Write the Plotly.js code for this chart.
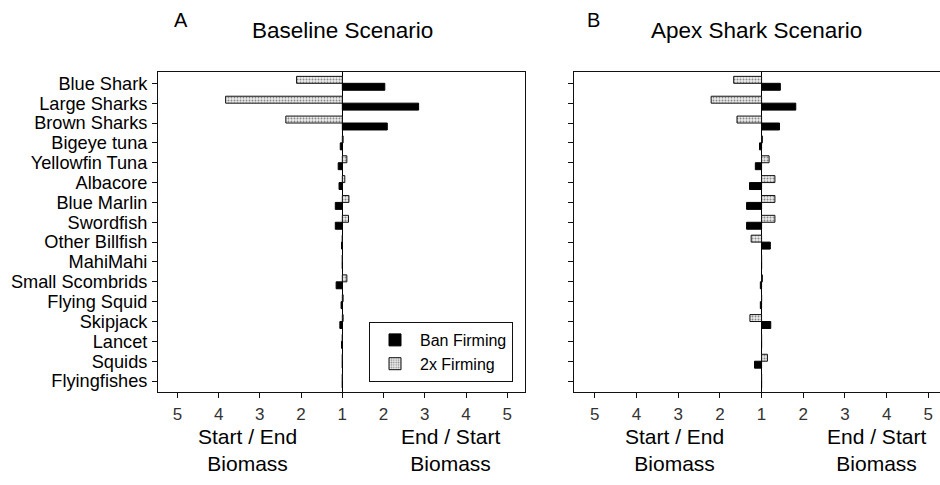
<!DOCTYPE html>
<html>
<head>
<meta charset="utf-8">
<script src="https://cdn.plot.ly/plotly-3.0.1.min.js"></script>
<style>html,body{margin:0;padding:0;background:#fff;}#chart{width:940px;height:485px;}</style>
</head>
<body>
<div id="chart"></div>
<script>
// Species (top to bottom)
const categories = ['Blue Shark','Large Sharks','Brown Sharks','Bigeye tuna','Yellowfin Tuna','Albacore','Blue Marlin','Swordfish','Other Billfish','MahiMahi','Small Scombrids','Flying Squid','Skipjack','Lancet','Squids','Flyingfishes'];

// Signed biomass ratios: positive = End/Start ratio (drawn right of 1),
// negative = Start/End ratio (drawn left of 1); 1 = no change.
const baselineBanFinning = [2.03, 2.85, 2.09, -1.05, -1.10, -1.08, -1.17, -1.17, -1.02, 1, -1.15, -1.03, -1.06, -1.02, 1, 1];
const baseline2xFinning  = [-2.11, -3.83, -2.37, 1.02, 1.11, 1.06, 1.16, 1.15, 1, 1, 1.11, 1.02, 1.02, 1, 1, 1];
const apexBanFinning     = [1.45, 1.82, 1.43, -1.05, -1.15, -1.29, -1.36, -1.36, 1.21, 1, -1.03, -1.03, 1.22, 1, -1.17, 1];
const apex2xFinning      = [-1.67, -2.21, -1.59, 1.02, 1.18, 1.32, 1.32, 1.32, -1.25, 1, 1.02, 1, -1.28, 1, 1.14, 1];

const tickVals = [-4, -3, -2, -1, 0, 1, 2, 3, 4];
const tickText = ['5', '4', '3', '2', '1', '2', '3', '4', '5'];

const toAxis = v => (v >= 0 ? v - 1 : v + 1);

const FONT = 'Liberation Sans, Arial, Helvetica, sans-serif';
const W = 940, H = 485;
const px = x => x / W;
const py = y => 1 - y / H;

const grayMarker = {color: '#e6e6e6', line: {color: '#111', width: 1},
  pattern: {shape: '.', fgcolor: '#8a8a8a', bgcolor: '#eeeeee', size: 3, solidity: 0.35}};
const blackMarker = {color: '#000', line: {color: '#000', width: 1}};

const traces = [
  {type: 'bar', orientation: 'h', name: '2x Firming', y: categories, x: baseline2xFinning.map(toAxis),
   marker: grayMarker, xaxis: 'x', yaxis: 'y', showlegend: true, legendrank: 2},
  {type: 'bar', orientation: 'h', name: 'Ban Firming', y: categories, x: baselineBanFinning.map(toAxis),
   marker: blackMarker, xaxis: 'x', yaxis: 'y', showlegend: true, legendrank: 1},
  {type: 'bar', orientation: 'h', name: '2x Firming', y: categories, x: apex2xFinning.map(toAxis),
   marker: grayMarker, xaxis: 'x2', yaxis: 'y2', showlegend: false},
  {type: 'bar', orientation: 'h', name: 'Ban Firming', y: categories, x: apexBanFinning.map(toAxis),
   marker: blackMarker, xaxis: 'x2', yaxis: 'y2', showlegend: false}
];

const xCommon = {
  tickmode: 'array', tickvals: tickVals, ticktext: tickText,
  ticks: 'outside', ticklen: 5, tickcolor: '#111', tickwidth: 1,
  showline: true, linecolor: '#111', linewidth: 1, mirror: true,
  showgrid: false, zeroline: true, zerolinecolor: '#000', zerolinewidth: 1,
  tickfont: {family: FONT, size: 17, color: '#333'}, ticklabelstandoff: 2,
  fixedrange: true
};
const yCommon = {
  type: 'category', categoryorder: 'array', categoryarray: categories,
  tickmode: 'array', tickvals: categories, ticktext: categories,
  range: [15.55, -0.57], autorange: false,
  ticks: 'outside', ticklen: 5, tickcolor: '#111', tickwidth: 1,
  showline: true, linecolor: '#111', linewidth: 1, mirror: true,
  showgrid: false, zeroline: false, fixedrange: true,
  domain: [py(392), py(72)]
};

const ann = (text, x, y, size) => ({text: text, x: px(x), y: py(y), xref: 'paper', yref: 'paper',
  xanchor: 'center', yanchor: 'middle', showarrow: false,
  font: {family: FONT, size: size, color: '#000'}});

const layout = {
  width: W, height: H,
  margin: {l: 0, r: 0, t: 0, b: 0},
  paper_bgcolor: '#fff', plot_bgcolor: '#fff',
  barmode: 'group', bargap: 0.3, bargroupgap: 0,
  font: {family: FONT, color: '#000'},
  xaxis: Object.assign({}, xCommon, {domain: [px(158), px(525)], range: [-4.47, 4.43], anchor: 'y'}),
  yaxis: Object.assign({}, yCommon, {anchor: 'x', showticklabels: true, ticklabelstandoff: 1,
    tickfont: {family: FONT, size: 18.2, color: '#000'}}),
  xaxis2: Object.assign({}, xCommon, {domain: [px(574), 1], range: [-4.5, 4.28], anchor: 'y2'}),
  yaxis2: Object.assign({}, yCommon, {anchor: 'x2', showticklabels: false}),
  showlegend: true,
  legend: {x: px(369), y: py(322), xanchor: 'left', yanchor: 'top',
    bordercolor: '#111', borderwidth: 1, bgcolor: '#fff',
    font: {family: FONT, size: 16, color: '#000'}, traceorder: 'normal',
    itemwidth: 40},
  annotations: [
    ann('A', 181, 20, 20),
    ann('Baseline Scenario', 342, 31, 22.5),
    ann('B', 593, 20, 20),
    ann('Apex Shark Scenario', 756, 31, 22.5),
    ann('Start / End<br>Biomass', 247, 450, 21),
    ann('End / Start<br>Biomass', 450, 450, 21),
    ann('Start / End<br>Biomass', 674, 450, 21),
    ann('End / Start<br>Biomass', 876, 450, 21)
  ]
};

Plotly.newPlot('chart', traces, layout, {displayModeBar: false, staticPlot: true});
</script>
</body>
</html>
